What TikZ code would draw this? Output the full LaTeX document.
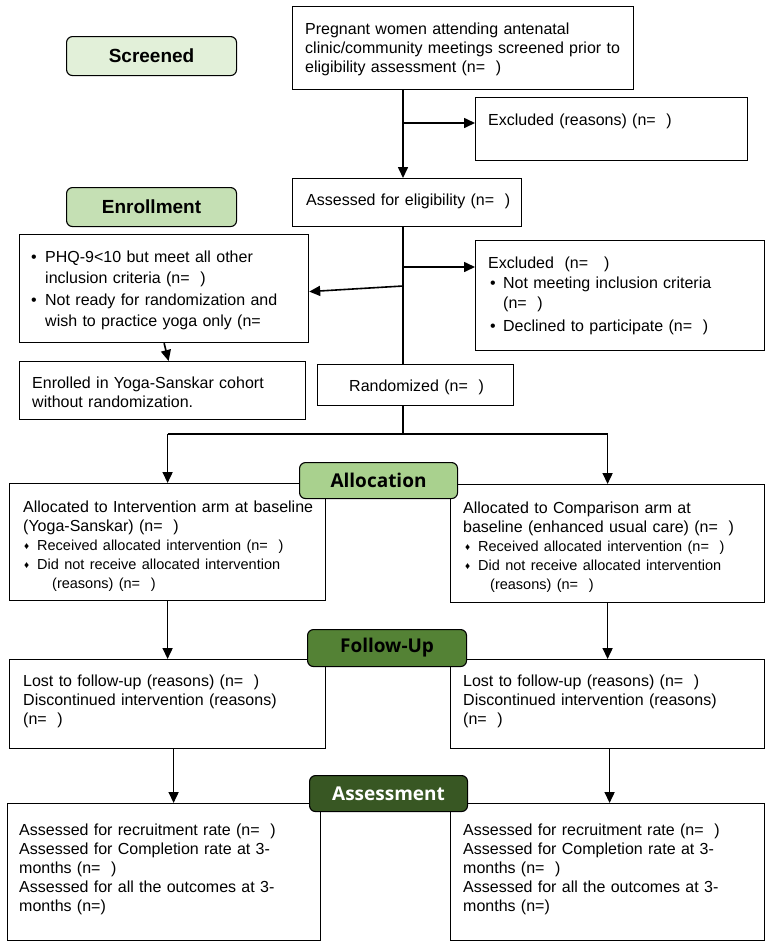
\documentclass[tikz,border=0pt]{standalone}
\usepackage{fontspec}
\setmainfont{Liberation Sans}
\newfontfamily\labfont{Open Sans}
\usetikzlibrary{arrows.meta,calc}
\newcommand\mystrut{\rule{0pt}{12pt}}
\newcommand\dfont{\fontsize{14.5}{19}\selectfont}
\newcommand\dia{\makebox[13pt][l]{\fontsize{10}{10}\selectfont\raisebox{0.5pt}{♦}}}
\newcommand\bul{\makebox[14pt][l]{•}}
\definecolor{cScr}{HTML}{E2F0D9}
\definecolor{cEnr}{HTML}{C5E0B4}
\definecolor{cAll}{HTML}{A9D18E}
\definecolor{cFol}{HTML}{548235}
\definecolor{cAss}{HTML}{385723}
\begin{document}
\begin{tikzpicture}[x=1pt,y=-1pt,
  box/.style={draw,line width=1.2pt,rectangle,inner sep=0pt,anchor=north west},
  txt/.style={inner sep=0pt,anchor=north west,align=left,text width=340pt,
    font=\fontsize{16}{19}\selectfont},
  lab/.style={draw,line width=1.1pt,rounded corners=6pt,inner sep=0pt,anchor=north west},
  labA/.style={lab,font=\fontsize{19}{22}\selectfont\bfseries},
  labB/.style={lab,font=\labfont\fontsize{19}{22}\selectfont\bfseries},
  conn/.style={line width=1.6pt},
  arr/.style={line width=1.6pt,-{Triangle[length=11pt,width=10pt]}}]
\fill[white] (0,0) rectangle (771,946);
\useasboundingbox (0,0) rectangle (771,946);

% boxes
\node[box,minimum width=341,minimum height=83] (top) at (292,6) {};
\node[box,minimum width=272,minimum height=63] (exc1) at (475,97) {};
\node[box,minimum width=229,minimum height=48] (elig) at (292,178) {};
\node[box,minimum width=289,minimum height=108] (phq) at (19,234) {};
\node[box,minimum width=286,minimum height=58] (enr) at (19,361) {};
\node[box,minimum width=289,minimum height=110] (exc2) at (475,240) {};
\node[box,minimum width=196,minimum height=41] (rand) at (317,364) {};
\node[box,minimum width=316,minimum height=117] (la) at (9,483) {};
\node[box,minimum width=314,minimum height=118] (ra) at (450,484) {};
\node[box,minimum width=316,minimum height=89] (lf) at (9,659) {};
\node[box,minimum width=314,minimum height=89] (rf) at (450,659) {};
\node[box,minimum width=313,minimum height=137] (las) at (7,803) {};
\node[box,minimum width=314,minimum height=137] (ras) at (450,803) {};

% texts
\node[txt] (ttop) at (305,22) {\mystrut Pregnant women attending antenatal\\clinic/community meetings screened prior to\\eligibility assessment (n=\ \ )};
\node[txt] (texc1) at (488,113) {\mystrut Excluded (reasons) (n=\ \ )};
\node[txt] (telig) at (306,193) {\mystrut Assessed for eligibility (n=\ \ )};
\node[txt,font=\fontsize{16}{21}\selectfont] (tphq) at (31,250) {\mystrut\bul PHQ-9<10 but meet all other\\\hspace*{14pt}inclusion criteria (n=\ \ )\\[1pt]\bul Not ready for randomization and\\\hspace*{14pt}wish to practice yoga only (n=};
\node[txt] (tenr) at (32,376) {\mystrut Enrolled in Yoga-Sanskar cohort\\without randomization.};
\node[txt,font=\fontsize{16}{20}\selectfont] (texc2) at (488,256) {\mystrut Excluded\ \ (n=\ \ \ )\\\hspace*{2pt}\makebox[13pt][l]{•}Not meeting inclusion criteria\\\hspace*{15pt}(n=\ \ )\\[3pt]\hspace*{2pt}\makebox[13pt][l]{•}Declined to participate (n=\ \ )};
\node[txt] (trand) at (349,379) {\mystrut Randomized (n=\ \ )};
\node[txt] (tla) at (23,500) {\mystrut Allocated to Intervention arm at baseline\\(Yoga-Sanskar) (n=\ \ )\\\dfont\hspace*{1pt}\dia Received allocated intervention (n=\ \ )\\\hspace*{1pt}\dia Did not receive allocated intervention\\\hspace*{29pt}(reasons) (n=\ \ )};
\node[txt] (tra) at (463,501) {\mystrut Allocated to Comparison arm at\\baseline (enhanced usual care) (n=\ \ )\\\dfont\hspace*{2pt}\dia Received allocated intervention (n=\ \ )\\\hspace*{2pt}\dia Did not receive allocated intervention\\\hspace*{27pt}(reasons) (n=\ \ )};
\node[txt] (tlf) at (23,674) {\mystrut Lost to follow-up (reasons) (n=\ \ )\\Discontinued intervention (reasons)\\(n=\ \ )};
\node[txt] (trf) at (463,674) {\mystrut Lost to follow-up (reasons) (n=\ \ )\\Discontinued intervention (reasons)\\(n=\ \ )};
\node[txt] (tlas) at (19,823) {\mystrut Assessed for recruitment rate (n=\ \ )\\Assessed for Completion rate at 3-\\months (n=\ \ )\\Assessed for all the outcomes at 3-\\months (n=)};
\node[txt] (tras) at (463,823) {\mystrut Assessed for recruitment rate (n=\ \ )\\Assessed for Completion rate at 3-\\months (n=\ \ )\\Assessed for all the outcomes at 3-\\months (n=)};

% connectors
\coordinate (sp1) at (403,123);
\coordinate (sp2) at (403,267);
\coordinate (sp3) at (403,286);
\coordinate (split) at (403,434);
\draw[arr] (top.south -| sp1) -- (elig.north -| sp1);
\draw[arr] (sp1) -- (sp1 -| exc1.west);
\draw[conn] (elig.south -| sp1) -- (rand.north -| sp1);
\draw[arr] (sp2) -- (sp2 -| exc2.west);
\draw[arr] (sp3) -- ($(phq.east)+(0,3)$);
\draw[arr] (phq.south) -- ($(enr.north)+(6,0)$);
\draw[conn] (rand.south -| sp1) -- (split);
\draw[conn] (la.north |- split) -- (ra.north |- split);
\draw[arr] (la.north |- split) -- (la.north);
\draw[arr] (ra.north |- split) -- (ra.north);
\draw[arr] (la.south) -- (lf.north);
\draw[arr] (ra.south) -- (rf.north);
\coordinate (lfo) at ($(lf.south)+(6,0)$);
\draw[arr] (lfo) -- (lfo |- las.north);
\coordinate (rfo) at ($(rf.south)+(2,0)$);
\draw[arr] (rfo) -- (rfo |- ras.north);

% stage labels
\node[labA,fill=cScr,minimum width=170,minimum height=39] (screened) at (66,36) {Screened};
\node[labA,fill=cEnr,minimum width=170,minimum height=39] (enrollment) at (66,187) {Enrollment};
\node[labB,fill=cAll,minimum width=158,minimum height=36] (allocation) at (299,462) {Allocation};
\node[labB,fill=cFol,minimum width=159,minimum height=37] (followup) at (307,629) {Follow-Up};
\node[labB,fill=cAss,text=white,minimum width=158,minimum height=36] (assessment) at (309,775) {Assessment};
\end{tikzpicture}
\end{document}
